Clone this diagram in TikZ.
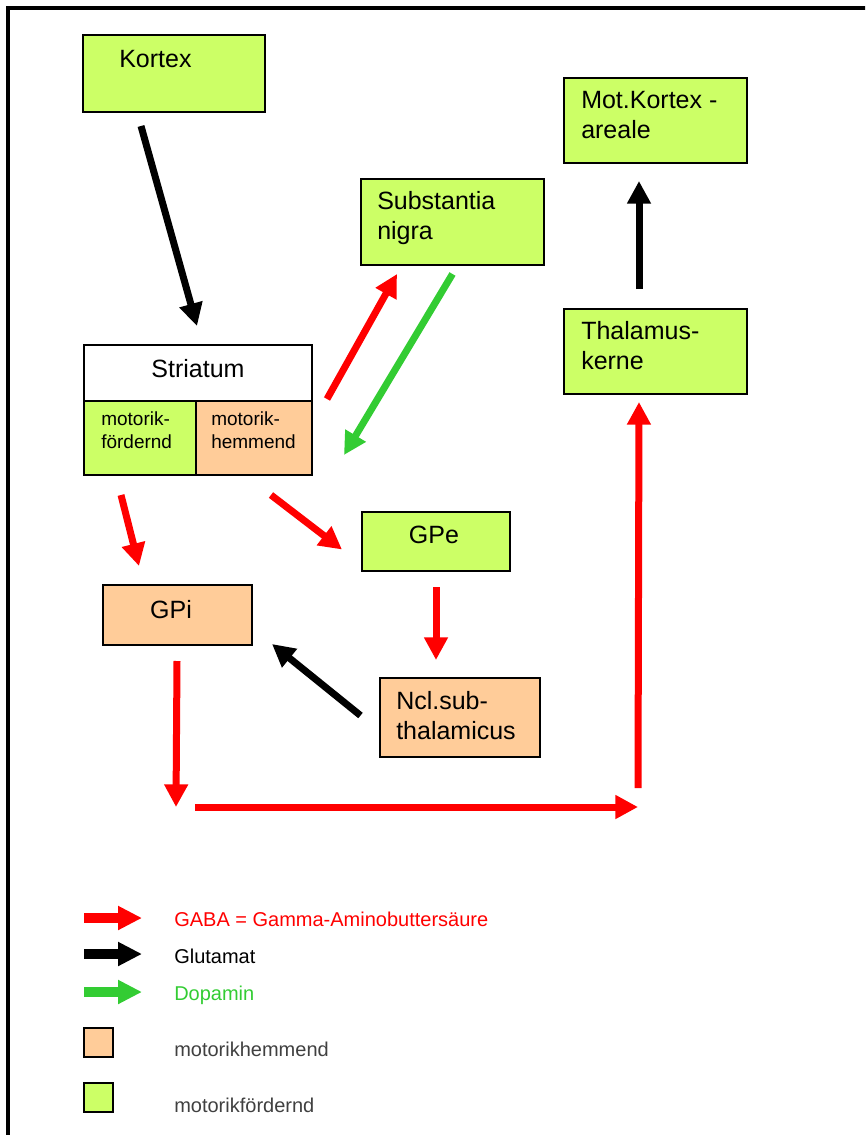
\documentclass[tikz,border=0pt]{standalone}
\usepackage{fontspec}
\setmainfont{Liberation Sans}
\usetikzlibrary{arrows.meta}

\definecolor{foerdern}{HTML}{CCFF66}
\definecolor{hemmen}{HTML}{FFCC99}
\definecolor{gabared}{HTML}{FF0000}
\definecolor{dopagreen}{HTML}{33CC33}
\definecolor{legendgray}{HTML}{404040}

\newcommand{\px}{0.75pt}

\tikzset{
  box/.style={draw, line width=1.5pt, anchor=north west, inner sep=0pt},
  fgreen/.style={box, fill=foerdern},
  forange/.style={box, fill=hemmen},
  boxtext/.style={anchor=base west, inner sep=0pt, align=left, font=\fontsize{18.75pt}{22pt}\selectfont},
  smalltext/.style={anchor=base west, inner sep=0pt, align=left, font=\fontsize{14.25pt}{17.25pt}\selectfont},
  legtext/.style={anchor=base west, inner sep=0pt, font=\fontsize{15pt}{18pt}\selectfont},
  gaba/.style={line width=5.25pt, draw=gabared, -{Triangle[length=17pt,width=17pt]}},
  glut/.style={line width=5.25pt, draw=black, -{Triangle[length=17pt,width=17pt]}},
  dopa/.style={line width=5.25pt, draw=dopagreen, -{Triangle[length=17pt,width=17pt]}}
}

\begin{document}
\begin{tikzpicture}[x=\px, y=-\px]

\useasboundingbox (0,0) rectangle (865,1135);
\clip (0,0) rectangle (865,1135);

% Frame
\draw[line width=3pt] (8,1200) -- (8,8) -- (900,8);

% Boxes
\node[fgreen, minimum width=182*\px, minimum height=77*\px] (kortex) at (82,34) {};
\node[fgreen, minimum width=183*\px, minimum height=85*\px] (motkortex) at (563,77) {};
\node[fgreen, minimum width=183*\px, minimum height=85*\px] (thalamus) at (563,308) {};
\node[fgreen, minimum width=183*\px, minimum height=86*\px] (substantia) at (360,178) {};
\node[box, fill=white, minimum width=228*\px, minimum height=130*\px] (striatum) at (83,344) {};
\node[fgreen, minimum width=112*\px, minimum height=74*\px] (strfoe) at (83,400) {};
\node[forange, minimum width=116*\px, minimum height=74*\px] (strhem) at (195,400) {};
\node[fgreen, minimum width=148*\px, minimum height=59*\px] (gpe) at (361,511) {};
\node[forange, minimum width=149*\px, minimum height=60*\px] (gpi) at (102,584) {};
\node[forange, minimum width=160*\px, minimum height=79*\px] (ncl) at (379,677) {};

% Box labels (two-line labels sit on the baseline of their last line)
\node[boxtext] (kortextxt) at ([shift={(37,33)}]kortex.north west) {Kortex};
\node[boxtext] (motkortextxt) at ([shift={(18,61)}]motkortex.north west) {Mot.Kortex -\\areale};
\node[boxtext] (thalamustxt) at ([shift={(18,61)}]thalamus.north west) {Thalamus-\\kerne};
\node[boxtext] (substantiatxt) at ([shift={(17,61)}]substantia.north west) {Substantia\\nigra};
\node[boxtext, anchor=base] (striatumtxt) at ([shift={(115,33)}]striatum.north west) {Striatum};
\node[smalltext] (strfoetxt) at ([shift={(18,48)}]strfoe.north west) {motorik-\\fördernd};
\node[smalltext] (strhemtxt) at ([shift={(16,48)}]strhem.north west) {motorik-\\hemmend};
\node[boxtext, anchor=base] (gpetxt) at ([shift={(73,32)}]gpe.north west) {GPe};
\node[boxtext, anchor=base] (gpitxt) at ([shift={(69,34)}]gpi.north west) {GPi};
\node[boxtext] (ncltxt) at ([shift={(17,62)}]ncl.north west) {Ncl.sub-\\thalamicus};

% Connectors
\coordinate (loopL) at (176,807);
\coordinate (loopR) at (638,807);
\draw[glut] ([shift={(-33,13)}]kortex.south) -- ([shift={(-1,-18)}]striatum.north);
\draw[glut] ([shift={(-16.5,-19)}]thalamus.north) -- ([shift={(-16.5,17)}]motkortex.south);
\draw[gaba] ([shift={(14,55)}]striatum.north east) -- ([shift={(37,8)}]substantia.south west);
\draw[dopa] ([shift={(0,8)}]substantia.south) -- ([shift={(31,111)}]striatum.north east);
\draw[gaba] ([shift={(38,19)}]striatum.south west) -- ([shift={(37,-18)}]gpi.north west);
\draw[gaba] ([shift={(-42,19)}]striatum.south east) -- ([shift={(-19,8)}]gpe.west);
\draw[gaba] ([shift={(0,15)}]gpe.south) -- ([shift={(-24,-17)}]ncl.north);
\draw[glut] ([shift={(-18.5,-2)}]ncl.west) -- ([shift={(19,-2)}]gpi.south east);
\draw[gaba] ([shift={(-0.5,15)}]gpi.south) -- (loopL);
\draw[gaba] ([shift={(19,0)}]loopL) -- (loopR);
\draw[gaba] ([shift={(0,-19)}]loopR) -- ([shift={(-16.5,7)}]thalamus.south);

% Legend arrows
\foreach \y/\col in {918/gabared, 954/black, 992/dopagreen}
  \draw[line width=7.5pt, draw=\col, -{Triangle[length=18pt,width=17pt]}] (84,\y) -- (142,\y);

% Legend squares
\foreach \y/\col in {1028/hemmen, 1083/foerdern}
  \draw[line width=2pt, fill=\col] (84,\y) rectangle (113,\y+29);

% Legend labels
\node[legtext, text=gabared] (leggaba) at (174,926) {GABA = Gamma-Aminobuttersäure};
\node[legtext] (legglut) at (174,963) {Glutamat};
\node[legtext, text=dopagreen] (legdopa) at (174,1000) {Dopamin};
\node[legtext, text=legendgray] (leghem) at (174,1056) {motorikhemmend};
\node[legtext, text=legendgray] (legfoe) at (174,1112) {motorikfördernd};

\end{tikzpicture}
\end{document}
